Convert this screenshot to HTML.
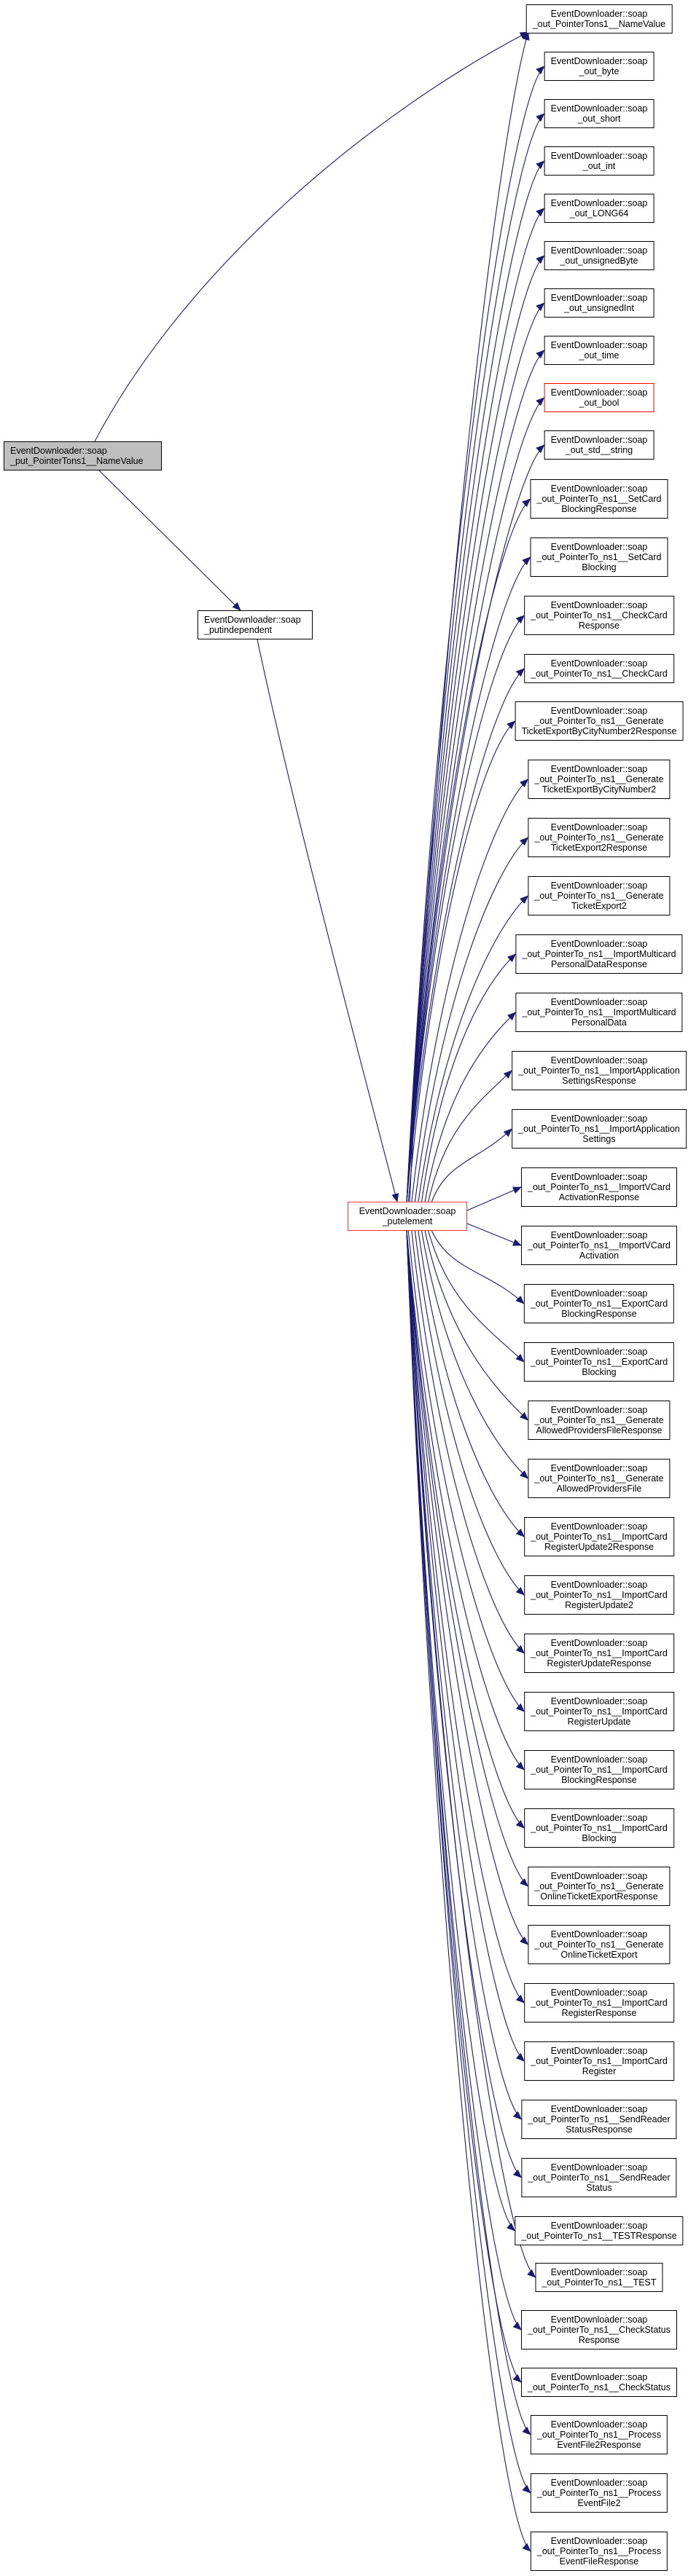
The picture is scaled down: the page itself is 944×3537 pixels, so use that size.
<!DOCTYPE html>
<html><head><meta charset="utf-8"><style>
body{margin:0;width:944px;height:3537px;background:#fff;position:relative;overflow:hidden;font-family:"Liberation Sans",sans-serif}
.n{position:absolute;box-sizing:border-box;border:1px solid #000;background:#fff;font-size:12.5px;line-height:14px;padding:5px 8px;text-align:center;white-space:pre;color:#000}
.r{transform:translateX(-50%);left:822px}
svg{position:absolute;left:0;top:0}
</style></head><body>
<svg id="s" width="944" height="3537"><defs><marker id="a" markerWidth="12" markerHeight="10" refX="11" refY="5" orient="auto" markerUnits="userSpaceOnUse"><path d="M0,0 L12,5 L0,10 z" fill="#191970"/></marker></defs><g id="g" fill="none" stroke="#191970" stroke-width="1.1"></g></svg>
<div class="n" id="L" style="left:5px;top:606px;width:217px;height:40px;background:#bfbfbf;text-align:left">EventDownloader::soap
_put_PointerTons1__NameValue</div>
<div class="n" id="PI" style="left:271px;top:838px;width:158px;height:40px;text-align:left">EventDownloader::soap
_putindependent</div>
<div class="n" id="PE" style="left:477px;top:1650px;width:164px;height:40px;border-color:#f33">EventDownloader::soap
_putelement</div>
<div class="n r" style="top:6px">EventDownloader::soap
_out_PointerTons1__NameValue</div>
<div class="n r" style="top:71px">EventDownloader::soap
_out_byte</div>
<div class="n r" style="top:136px">EventDownloader::soap
_out_short</div>
<div class="n r" style="top:201px">EventDownloader::soap
_out_int</div>
<div class="n r" style="top:266px">EventDownloader::soap
_out_LONG64</div>
<div class="n r" style="top:331px">EventDownloader::soap
_out_unsignedByte</div>
<div class="n r" style="top:396px">EventDownloader::soap
_out_unsignedInt</div>
<div class="n r" style="top:461px">EventDownloader::soap
_out_time</div>
<div class="n r" style="top:526px;border-color:#f00">EventDownloader::soap
_out_bool</div>
<div class="n r" style="top:591px">EventDownloader::soap
_out_std__string</div>
<div class="n r" style="top:658px">EventDownloader::soap
_out_PointerTo_ns1__SetCard
BlockingResponse</div>
<div class="n r" style="top:738px">EventDownloader::soap
_out_PointerTo_ns1__SetCard
Blocking</div>
<div class="n r" style="top:818px">EventDownloader::soap
_out_PointerTo_ns1__CheckCard
Response</div>
<div class="n r" style="top:898px">EventDownloader::soap
_out_PointerTo_ns1__CheckCard</div>
<div class="n r" style="top:963px">EventDownloader::soap
_out_PointerTo_ns1__Generate
TicketExportByCityNumber2Response</div>
<div class="n r" style="top:1043px">EventDownloader::soap
_out_PointerTo_ns1__Generate
TicketExportByCityNumber2</div>
<div class="n r" style="top:1123px">EventDownloader::soap
_out_PointerTo_ns1__Generate
TicketExport2Response</div>
<div class="n r" style="top:1203px">EventDownloader::soap
_out_PointerTo_ns1__Generate
TicketExport2</div>
<div class="n r" style="top:1283px">EventDownloader::soap
_out_PointerTo_ns1__ImportMulticard
PersonalDataResponse</div>
<div class="n r" style="top:1363px">EventDownloader::soap
_out_PointerTo_ns1__ImportMulticard
PersonalData</div>
<div class="n r" style="top:1443px">EventDownloader::soap
_out_PointerTo_ns1__ImportApplication
SettingsResponse</div>
<div class="n r" style="top:1523px">EventDownloader::soap
_out_PointerTo_ns1__ImportApplication
Settings</div>
<div class="n r" style="top:1603px">EventDownloader::soap
_out_PointerTo_ns1__ImportVCard
ActivationResponse</div>
<div class="n r" style="top:1683px">EventDownloader::soap
_out_PointerTo_ns1__ImportVCard
Activation</div>
<div class="n r" style="top:1763px">EventDownloader::soap
_out_PointerTo_ns1__ExportCard
BlockingResponse</div>
<div class="n r" style="top:1843px">EventDownloader::soap
_out_PointerTo_ns1__ExportCard
Blocking</div>
<div class="n r" style="top:1923px">EventDownloader::soap
_out_PointerTo_ns1__Generate
AllowedProvidersFileResponse</div>
<div class="n r" style="top:2003px">EventDownloader::soap
_out_PointerTo_ns1__Generate
AllowedProvidersFile</div>
<div class="n r" style="top:2083px">EventDownloader::soap
_out_PointerTo_ns1__ImportCard
RegisterUpdate2Response</div>
<div class="n r" style="top:2163px">EventDownloader::soap
_out_PointerTo_ns1__ImportCard
RegisterUpdate2</div>
<div class="n r" style="top:2243px">EventDownloader::soap
_out_PointerTo_ns1__ImportCard
RegisterUpdateResponse</div>
<div class="n r" style="top:2323px">EventDownloader::soap
_out_PointerTo_ns1__ImportCard
RegisterUpdate</div>
<div class="n r" style="top:2403px">EventDownloader::soap
_out_PointerTo_ns1__ImportCard
BlockingResponse</div>
<div class="n r" style="top:2483px">EventDownloader::soap
_out_PointerTo_ns1__ImportCard
Blocking</div>
<div class="n r" style="top:2563px">EventDownloader::soap
_out_PointerTo_ns1__Generate
OnlineTicketExportResponse</div>
<div class="n r" style="top:2643px">EventDownloader::soap
_out_PointerTo_ns1__Generate
OnlineTicketExport</div>
<div class="n r" style="top:2723px">EventDownloader::soap
_out_PointerTo_ns1__ImportCard
RegisterResponse</div>
<div class="n r" style="top:2803px">EventDownloader::soap
_out_PointerTo_ns1__ImportCard
Register</div>
<div class="n r" style="top:2883px">EventDownloader::soap
_out_PointerTo_ns1__SendReader
StatusResponse</div>
<div class="n r" style="top:2963px">EventDownloader::soap
_out_PointerTo_ns1__SendReader
Status</div>
<div class="n r" style="top:3043px">EventDownloader::soap
_out_PointerTo_ns1__TESTResponse</div>
<div class="n r" style="top:3107px">EventDownloader::soap
_out_PointerTo_ns1__TEST</div>
<div class="n r" style="top:3172px">EventDownloader::soap
_out_PointerTo_ns1__CheckStatus
Response</div>
<div class="n r" style="top:3251px">EventDownloader::soap
_out_PointerTo_ns1__CheckStatus</div>
<div class="n r" style="top:3316px">EventDownloader::soap
_out_PointerTo_ns1__Process
EventFile2Response</div>
<div class="n r" style="top:3396px">EventDownloader::soap
_out_PointerTo_ns1__Process
EventFile2</div>
<div class="n r" style="top:3476px">EventDownloader::soap
_out_PointerTo_ns1__Process
EventFileResponse</div>
<script>
(function(){
var g=document.getElementById('g');
function P(d){var p=document.createElementNS('http://www.w3.org/2000/svg','path');p.setAttribute('d',d);p.setAttribute('marker-end','url(#a)');g.appendChild(p);}
var ns=document.querySelectorAll('.r');
var b1=ns[0].getBoundingClientRect();
P('M130,606 C260,360 520,150 '+(b1.left+3)+','+(b1.bottom-2));
P('M136,646 L330,838');
P('M353,878 C400,1100 480,1400 545,1650');
for(var i=0;i<ns.length;i++){
 var r=ns[i].getBoundingClientRect();var L=r.left,cy=r.top+r.height/2;
 if(i==0){P('M562,1650 C600,900 680,200 '+(L+3)+','+(r.bottom-2));continue;}
 if(Math.abs(cy-1670)<80){P('M641,'+(cy<1670?1662:1680)+' L'+L+','+cy);continue;}
 if(cy<1670){
  var d=1650-cy;var sx=558+Math.max(0,40*(1-d/700));
  var mx=L-40;
  P('M'+sx+',1650 C'+(sx+ (mx-sx)*0.3)+','+(1650-d*0.55)+' '+(mx-8)+','+(cy+45)+' '+L+','+cy);
 }else{
  var d=cy-1690;var sx=558+Math.max(0,40*(1-d/700));
  var mx=L-40;
  P('M'+sx+',1690 C'+(sx+(mx-sx)*0.3)+','+(1690+d*0.55)+' '+(mx-8)+','+(cy-45)+' '+L+','+cy);
 }
}
})();
</script>
</body></html>
